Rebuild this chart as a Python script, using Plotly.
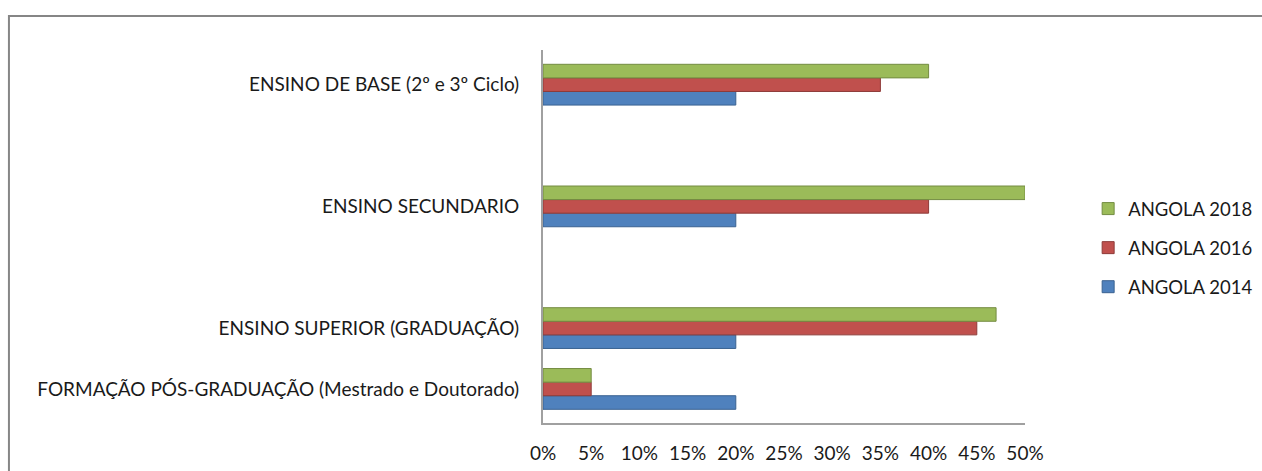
import plotly.graph_objects as go

categories = [
    "FORMAÇÃO PÓS-GRADUAÇÃO (Mestrado e Doutorado)",
    "ENSINO SUPERIOR (GRADUAÇÃO)",
    " ",
    "ENSINO SECUNDARIO",
    "  ",
    "ENSINO DE BASE (2º e 3º Ciclo)",
]
angola_2014 = [0.20, 0.20, None, 0.20, None, 0.20]
angola_2016 = [0.05, 0.45, None, 0.40, None, 0.35]
angola_2018 = [0.05, 0.47, None, 0.50, None, 0.40]
x_ticks = [0, 0.05, 0.10, 0.15, 0.20, 0.25, 0.30, 0.35, 0.40, 0.45, 0.50]
x_tick_labels = ["0%", "5%", "10%", "15%", "20%", "25%", "30%", "35%", "40%", "45%", "50%"]

series = [
    ("ANGOLA 2014", angola_2014, "#4F81BD", "#3A6291", 3),
    ("ANGOLA 2016", angola_2016, "#C0504D", "#8E3B39", 2),
    ("ANGOLA 2018", angola_2018, "#9BBB59", "#748C42", 1),
]

fig = go.Figure()
for name, vals, col, edge, rank in series:
    fig.add_trace(go.Bar(
        y=categories, x=vals, name=name, orientation="h", legendgroup=name,
        legendrank=rank,
        marker=dict(color=col, line=dict(color=edge, width=1)),
    ))

fig.update_layout(
    width=1262, height=471,
    margin=dict(l=543, r=237, t=50, b=48, autoexpand=False),
    paper_bgcolor="white", plot_bgcolor="white",
    barmode="group", bargap=0.33, bargroupgap=0,
    font=dict(family="Lato, Open Sans, sans-serif", size=19, color="#1a1a1a"),
    showlegend=True,
    legend=dict(traceorder="grouped", x=1.131, y=0.469, xanchor="left", yanchor="middle",
                font=dict(size=18.5), itemwidth=30, tracegroupgap=12,
                bgcolor="rgba(0,0,0,0)"),
    xaxis=dict(range=[0, 0.5], tickvals=x_ticks, ticktext=x_tick_labels,
               showgrid=False, zeroline=False, showline=True, linecolor="#A0A0A0",
               linewidth=1.5, ticks="", ticklabelstandoff=12),
    yaxis=dict(categoryorder="array", categoryarray=categories, range=[-0.56, 5.57],
               showgrid=False, zeroline=False, showline=True, linecolor="#A0A0A0",
               linewidth=2, ticks="", ticklabelstandoff=18),
    shapes=[dict(type="rect", xref="paper", yref="paper",
                 x0=-1.108, x1=2.0, y0=-1.0, y1=1.091,
                 line=dict(color="#868686", width=2))],
)

fig.write_html("out.html")
